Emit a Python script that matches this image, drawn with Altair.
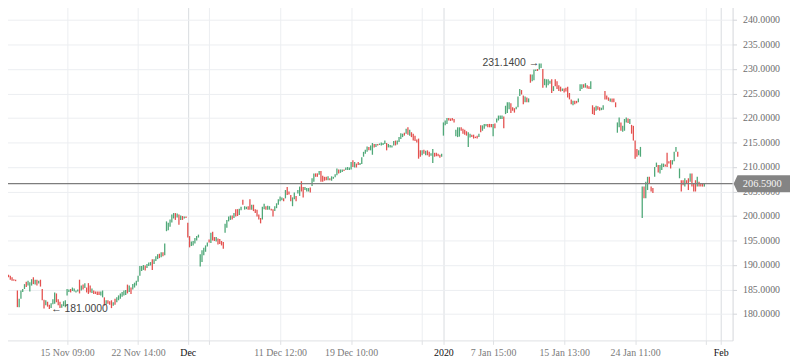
import altair as alt
import pandas as pd

# ---- data (hourly bars) ----
opens = [
188.1,186.4,187.2,185.0,188.0,187.8,187.5,187.1,187.0,184.8,
181.4,183.1,184.5,185.1,186.6,185.8,184.6,185.8,187.5,186.0,
187.0,186.2,187.0,185.1,182.9,181.8,182.5,181.9,181.2,182.0,
182.1,184.2,183.0,182.5,181.3,181.6,181.4,183.8,184.5,185.1,
184.7,184.6,184.4,184.6,187.0,184.8,186.0,185.3,185.4,186.3,
185.8,184.3,184.8,184.6,184.6,184.6,183.8,183.4,183.4,181.9,
182.8,182.6,182.8,181.7,183.1,182.4,182.8,183.1,183.5,183.8,
183.9,186.0,184.5,185.4,185.0,185.4,185.8,186.6,187.8,188.8,
189.0,189.9,189.4,189.8,189.9,191.2,190.2,190.8,191.2,192.3,
191.6,192.6,192.0,196.9,197.1,197.8,198.7,199.5,200.6,199.7,
200.3,199.2,200.0,199.5,199.9,198.6,195.9,193.9,194.0,194.4,
195.0,195.6,189.7,190.6,192.0,192.7,193.8,195.2,194.5,196.8,
195.7,194.8,195.4,195.3,194.9,194.7,196.6,197.6,198.9,199.2,
200.1,199.6,201.4,201.4,200.2,201.2,203.3,201.3,201.4,202.0,
203.4,201.3,202.3,201.4,201.3,200.3,199.6,199.3,201.4,202.0,
201.3,201.3,201.5,201.4,201.0,201.6,202.3,203.0,203.2,203.6,
203.6,205.9,205.0,204.3,202.0,203.4,204.1,204.6,204.1,207.1,
205.9,205.3,205.0,205.0,205.8,206.1,207.0,208.7,208.7,208.4,
209.2,208.2,208.0,208.0,207.3,207.7,207.2,207.6,207.9,208.3,
209.5,208.8,209.0,209.5,209.4,209.4,209.4,209.5,211.4,209.9,
210.7,211.0,210.4,210.6,212.1,212.7,213.1,214.1,213.4,212.5,
214.7,214.1,214.7,214.5,214.4,214.5,214.7,214.9,214.0,214.0,
214.0,214.4,215.4,214.6,215.1,215.7,216.1,217.0,216.8,218.1,
216.4,217.1,216.8,216.4,215.6,215.8,213.4,212.4,213.5,212.4,
213.4,213.1,212.3,210.8,212.9,212.9,212.7,212.5,212.1,216.4,
218.5,218.8,220.0,219.9,220.0,219.8,216.3,216.1,216.2,218.1,
217.8,217.6,217.3,214.1,216.0,216.6,216.6,216.2,216.4,216.1,
218.5,217.4,217.8,218.3,218.8,218.8,218.8,216.3,218.9,219.1,
219.5,219.8,219.8,220.3,220.8,221.0,221.8,223.0,222.2,222.0,
221.8,222.2,224.5,225.7,224.6,223.2,224.2,223.2,228.9,227.5,
227.7,229.6,230.0,229.9,230.2,230.0,226.7,226.2,226.7,227.0,
227.9,225.5,227.9,227.5,226.7,226.4,225.5,226.0,226.2,226.4,
225.1,223.8,222.6,223.5,223.5,223.2,225.5,225.9,226.9,226.2,
226.7,226.5,225.9,222.6,222.2,221.5,222.4,222.2,221.6,221.7,
225.5,224.6,224.2,223.3,224.0,224.0,223.2,217.0,218.1,219.1,
217.2,217.4,219.1,219.9,218.8,218.6,218.4,215.4,213.7,212.4,
212.1,199.6,206.0,203.6,205.3,208.0,206.0,205.7,208.0,210.0,
210.4,208.7,209.4,210.0,210.5,212.9,211.2,211.4,210.5,211.2,
213.1,213.1,207.7,207.3,207.3,206.0,207.3,207.7,207.0,208.7,
206.7,207.3,206.0,207.0,206.7,206.7,206.0,
]
closes = [
187.1,187.8,185.2,188.0,187.5,187.0,186.8,186.8,186.7,181.4,
183.1,184.8,185.1,186.1,185.5,186.8,186.5,187.1,186.1,187.0,
185.8,186.8,185.6,182.8,181.1,182.8,181.5,181.0,182.2,183.0,
184.4,182.4,181.8,181.2,182.0,182.6,182.8,185.1,185.0,184.4,
185.4,185.2,184.8,185.0,184.2,185.8,185.0,186.3,184.4,184.1,
184.4,185.2,184.1,184.1,183.9,183.9,184.6,184.8,181.7,182.8,
182.1,181.9,181.2,182.4,181.9,183.4,183.8,184.2,184.5,184.8,
184.9,184.2,185.8,184.1,186.1,186.4,186.8,187.8,189.8,189.8,
190.0,188.9,190.2,190.5,190.6,189.0,191.2,191.8,192.2,191.4,
192.6,191.8,194.4,198.9,198.6,199.3,200.3,200.6,199.2,200.5,
198.2,200.1,199.2,199.9,199.6,195.6,193.6,194.8,194.9,195.5,
195.9,196.2,192.2,193.0,193.5,194.0,194.6,194.6,196.6,195.0,
194.9,195.7,194.2,194.3,194.0,193.3,198.4,199.2,199.9,200.1,
199.3,200.6,199.9,200.0,201.5,201.9,202.3,202.0,201.9,201.3,
201.3,202.3,201.0,200.6,199.9,199.3,198.5,201.9,202.5,201.3,
202.1,202.0,201.1,199.9,202.0,202.6,203.4,204.0,203.8,203.0,
205.3,204.3,204.4,203.0,203.8,204.8,203.0,205.3,206.0,205.0,
203.8,205.9,205.7,205.7,204.8,207.7,208.7,208.0,208.0,209.2,
207.0,207.0,207.2,207.3,208.1,207.3,208.1,208.0,208.5,209.7,
208.7,209.5,209.5,209.2,209.9,210.0,209.9,211.0,210.0,211.0,
209.9,210.4,210.8,212.0,213.1,213.5,214.2,213.4,214.4,214.9,
214.0,214.7,214.4,214.8,215.0,214.9,215.4,213.4,214.7,214.5,
214.4,215.3,214.4,215.4,216.1,216.9,216.8,216.4,217.8,216.6,
217.6,216.1,215.4,215.3,215.0,211.7,212.1,213.4,212.7,213.3,
212.4,212.1,212.8,213.7,212.1,212.2,212.2,211.9,212.7,219.1,
219.5,220.0,219.5,219.4,219.5,219.1,217.6,218.1,218.1,217.4,
216.8,216.6,216.4,217.1,216.8,216.1,215.8,215.9,215.8,216.8,
217.1,218.5,218.8,218.8,218.1,218.1,218.1,218.8,217.9,219.9,
220.5,220.5,220.5,217.9,222.5,223.2,223.2,221.0,221.5,221.1,
222.3,224.4,225.9,224.8,222.8,224.4,223.2,224.0,227.2,228.9,
229.9,229.9,229.6,231.1,231.14,226.2,228.0,227.9,227.9,227.6,
225.1,226.5,226.5,225.9,225.5,225.4,226.0,225.2,225.4,224.2,
223.8,222.8,223.5,222.8,223.0,224.0,226.9,226.9,226.2,227.1,
226.0,225.9,227.5,220.8,220.6,222.5,221.7,221.5,222.1,222.6,
223.8,223.8,223.5,224.0,223.2,223.2,222.2,219.1,220.1,217.4,
218.4,219.8,220.1,219.0,219.8,216.8,215.4,211.7,212.1,213.4,
214.1,206.0,203.6,207.0,208.0,206.7,205.0,204.7,210.0,210.9,
208.9,210.4,210.7,210.7,210.1,210.0,210.7,209.7,211.4,213.1,
214.1,212.1,209.7,205.0,206.3,207.7,206.7,205.3,208.7,206.0,
205.0,205.0,208.0,206.0,206.0,206.0,206.59,
]

tick_pos = [37, 77, 105, 117, 157, 197, 237, 249, 277, 317, 357, 397, 405.2]
tick_text = ["15 Nov 09:00", "22 Nov 14:00", "Dec", "", "11 Dec 12:00", "19 Dec 10:00",
             "", "2020", "7 Jan 15:00", "15 Jan 13:00", "24 Jan 11:00", "", "Feb"]
month_ticks = [105, 249, 405.2]
y_ticks = [180.0, 185.0, 190.0, 195.0, 200.0, 205.0, 210.0, 215.0, 220.0, 225.0, 230.0, 235.0, 240.0]
last_price = [206.59]
last_label = ["206.5900"]
ann_idx = [304, 27]
ann_val = [231.14, 181.0]
ann_text = ["231.1400 \u2192", "\u2190 181.0000"]

# ---- frames ----
df = pd.DataFrame({"idx": list(range(len(opens))), "open": opens, "close": closes})
df["dir"] = ["up" if c >= o else "down" for o, c in zip(opens, closes)]

xs = alt.Scale(domain=[-0.75, 411.9], nice=False, zero=False)
ys = alt.Scale(domain=[174.61, 243.70], nice=False, zero=False)

pos_js = "[" + ",".join(str(p) for p in tick_pos) + "]"
txt_js = "[" + ",".join("'" + t + "'" for t in tick_text) + "]"
mon_js = "[" + ",".join(str(p) for p in month_ticks) + "]"
label_expr = f"{txt_js}[indexof({pos_js}, datum.value)]"
is_month = f"indexof({mon_js}, datum.value) >= 0"

x_axis = alt.Axis(
    values=tick_pos, labelExpr=label_expr, title=None,
    grid=True, gridColor={"condition": {"test": is_month, "value": "#d9dce0"}, "value": "#eceef1"},
    gridWidth=1, domainColor="#dfe1e4", tickColor="#dfe1e4", tickSize=4,
    labelFont="Liberation Serif", labelFontSize=10,
    labelColor={"condition": {"test": is_month, "value": "#111111"}, "value": "#7a7a7a"},
    labelOverlap=False, labelFlush=False, labelBound=False, labelPadding=3, zindex=0,
)
y_axis = alt.Axis(
    orient="right", values=y_ticks, format=".4f", title=None,
    grid=True, gridColor="#eceef1", gridWidth=1,
    domainColor="#d3d6da", tickColor="#d3d6da", tickSize=4,
    labelFont="Liberation Serif", labelFontSize=10, labelColor="#6e6e6e",
    labelOverlap=False, labelFlush=False, labelBound=False,
    labelPadding=6, zindex=0,
)

candles = alt.Chart(df).mark_rule(strokeWidth=1.3).encode(
    x=alt.X("idx:Q", scale=xs, axis=x_axis),
    y=alt.Y("open:Q", scale=ys, axis=y_axis),
    y2="close:Q",
    color=alt.Color("dir:N", scale=alt.Scale(domain=["up", "down"], range=["#4fa878", "#e4514f"]), legend=None),
)

pdf = pd.DataFrame({"price": last_price, "label": last_label})
price_line = alt.Chart(pdf).mark_rule(color="#7d7d7d", strokeWidth=1.2).encode(
    y=alt.Y("price:Q", scale=ys, axis=y_axis))

tag_path = "M -1 0 L -0.86 -0.3 L 1 -0.3 L 1 0.3 L -0.86 0.3 Z"
tag = alt.Chart(pdf).mark_point(shape=tag_path, size=3249, filled=True, color="#848484", opacity=1, strokeWidth=0).encode(
    x=alt.value(769.5), y=alt.Y("price:Q", scale=ys, axis=y_axis)
)
tag_text = alt.Chart(pdf).mark_text(font="Liberation Serif", fontSize=10.5, color="#f4f4f4", align="center", baseline="middle").encode(
    x=alt.value(770), y=alt.Y("price:Q", scale=ys, axis=y_axis), text="label:N"
)

adf = pd.DataFrame({"idx": ann_idx, "val": ann_val, "text": ann_text})
ann_max = alt.Chart(adf.iloc[[0]]).mark_text(align="right", baseline="middle", dx=-2,
    font="Liberation Sans", fontSize=10.5, color="#444444").encode(
    x=alt.X("idx:Q", scale=xs, axis=x_axis), y=alt.Y("val:Q", scale=ys, axis=y_axis), text="text:N")
ann_min = alt.Chart(adf.iloc[[1]]).mark_text(align="left", baseline="middle", dx=2,
    font="Liberation Sans", fontSize=10.5, color="#444444").encode(
    x=alt.X("idx:Q", scale=xs, axis=x_axis), y=alt.Y("val:Q", scale=ys, axis=y_axis), text="text:N")

chart = alt.layer(candles, price_line, ann_max, ann_min, tag, tag_text).properties(
    width=740, height=342,
    padding={"left": -8, "top": -8, "right": 58, "bottom": 21},
    autosize=alt.AutoSizeParams(type="none"),
    background="white",
).configure_view(strokeWidth=0)

chart.save("out.html", embed_options={"renderer": "svg", "actions": False})
